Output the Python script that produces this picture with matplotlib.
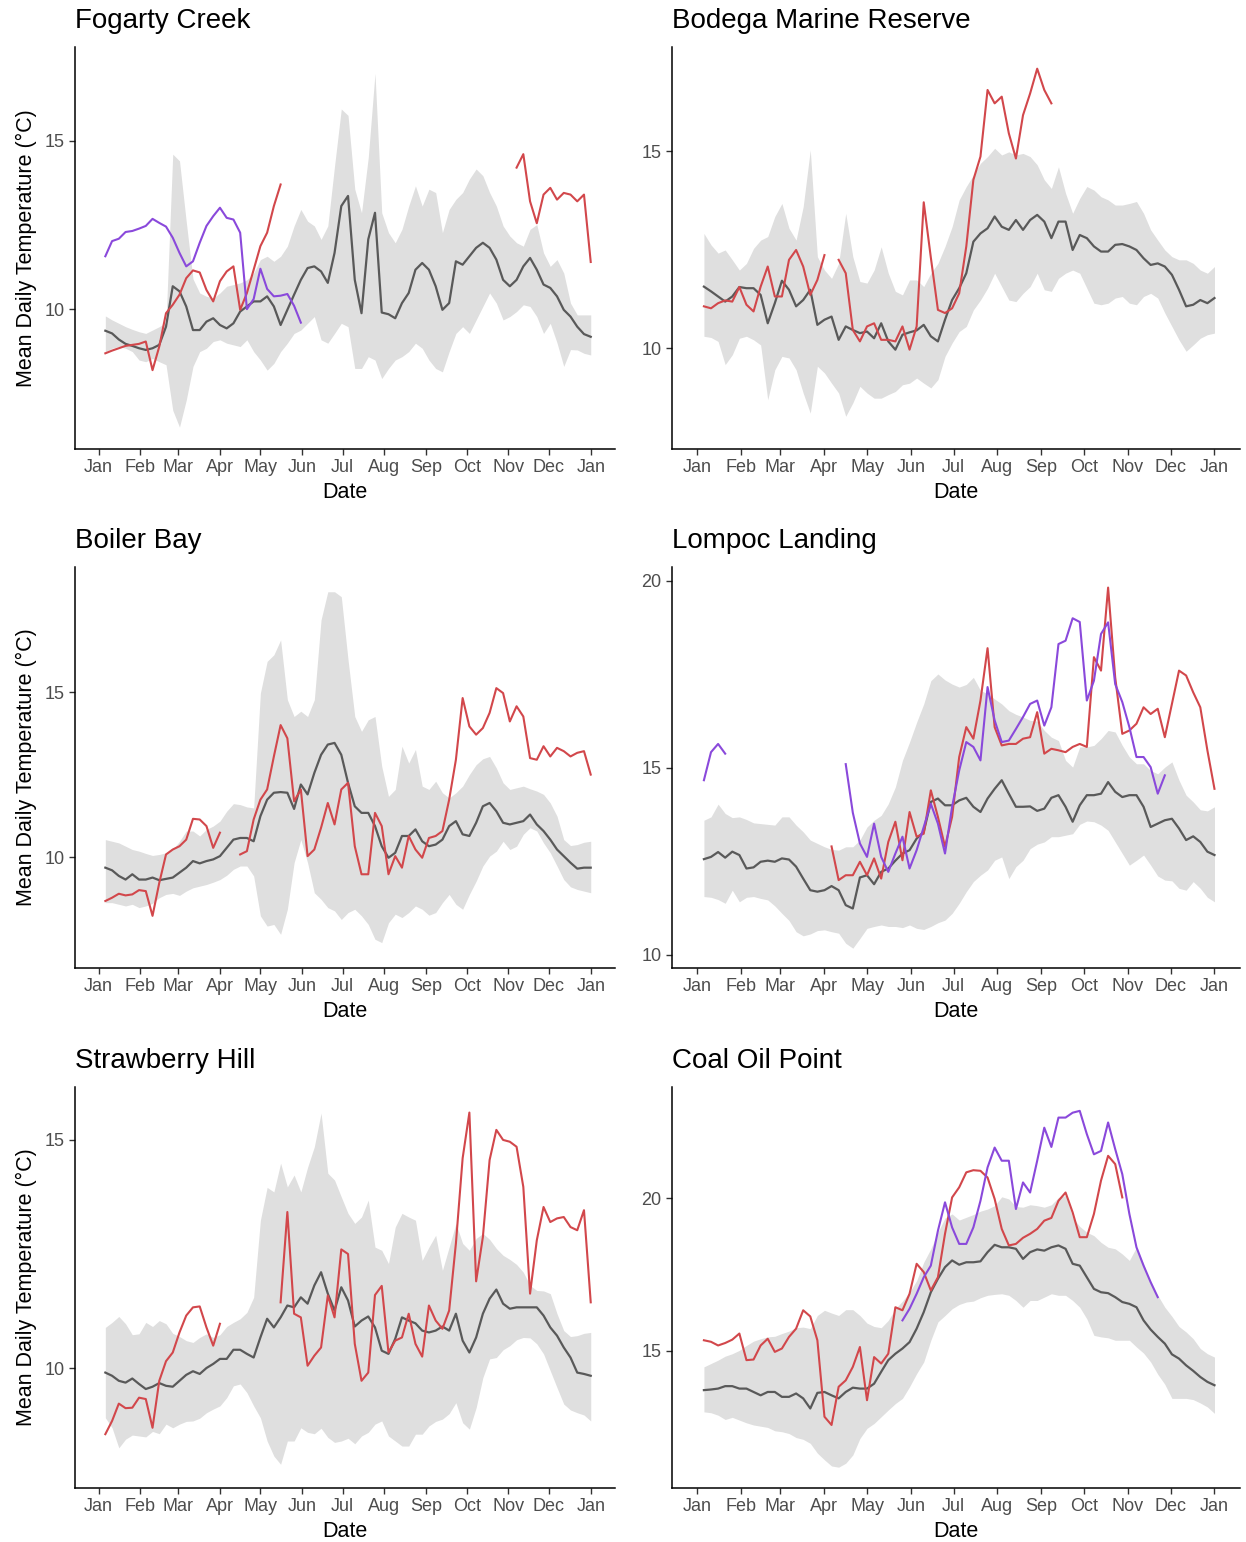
import numpy as np
import matplotlib
matplotlib.use("Agg")
import matplotlib.pyplot as plt

plt.rcParams['font.family'] = ['Liberation Sans', 'DejaVu Sans']

# values every 5 days, day 0 = Jan 1
STEP = 5
month_starts = [0, 31, 59, 90, 120, 151, 181, 212, 243, 273, 304, 334, 365]
month_labels = ['Jan', 'Feb', 'Mar', 'Apr', 'May', 'Jun', 'Jul',
                'Aug', 'Sep', 'Oct', 'Nov', 'Dec', 'Jan']

# ---- Fogarty Creek ----
fog_hi = [9.8, 9.68, 9.58, 9.48, 9.4, 9.33, 9.28, 9.38, 9.48, 9.6,
          14.6, 14.4, 12.6, 10.9, 10.48, 10.38, 10.33, 10.48, 10.68, 10.73,
          10.78, 10.87, 11.07, 11.47, 11.57, 11.42, 11.57, 11.87, 12.47, 12.96,
          12.61, 12.47, 12.07, 12.47, 14.25, 15.94, 15.75, 13.56, 12.86, 14.5,
          17.0, 12.86, 12.27, 11.97, 12.37, 13.06, 13.66, 13.06, 13.56, 13.46,
          12.27, 12.96, 13.26, 13.46, 13.86, 14.16, 13.96, 13.46, 13.06, 12.47,
          12.17, 11.97, 11.87, 12.37, 12.51, 11.67, 11.27, 11.47, 11.07, 10.18,
          9.83, 9.83, 9.83]
fog_lo = [8.74, 8.84, 8.89, 8.84, 8.74, 8.49, 8.44, 8.54, 8.44, 8.35,
          7.0, 6.5, 7.3, 8.3, 8.74, 8.84, 9.04, 9.09, 8.99, 8.94,
          8.89, 9.09, 8.74, 8.49, 8.19, 8.39, 8.74, 8.99, 9.28, 9.38,
          9.58, 9.78, 9.09, 8.99, 9.28, 9.58, 9.48, 8.24, 8.24, 8.59,
          8.49, 7.94, 8.24, 8.49, 8.59, 8.74, 8.99, 8.84, 8.49, 8.24,
          8.14, 8.74, 9.28, 9.48, 9.28, 9.68, 10.08, 10.48, 10.18, 9.68,
          9.78, 9.93, 10.13, 10.08, 9.78, 9.28, 9.58, 9.0, 8.3, 8.8,
          8.79, 8.69, 8.64]
fog_mean = [9.36, 9.28, 9.1, 8.97, 8.91, 8.84, 8.79, 8.84, 8.94, 9.48,
            10.68, 10.53, 10.08, 9.38, 9.38, 9.63, 9.73, 9.53, 9.43, 9.58,
            9.93, 10.08, 10.23, 10.23, 10.38, 10.08, 9.53, 9.98, 10.43, 10.87,
            11.22, 11.27, 11.12, 10.78, 11.67, 13.06, 13.36, 10.87, 9.88, 12.07,
            12.86, 9.9, 9.85, 9.73, 10.18, 10.48, 11.17, 11.37, 11.17, 10.68,
            9.98, 10.18, 11.42, 11.32, 11.57, 11.82, 11.97, 11.82, 11.47, 10.87,
            10.68, 10.87, 11.27, 11.52, 11.17, 10.73, 10.63, 10.38, 9.98, 9.78,
            9.48, 9.26, 9.18]
fog_red_a = [8.69, 8.77, 8.84, 8.91, 8.94, 8.97, 9.04, 8.19, 8.89, 9.88,
             10.13, 10.43, 10.92, 11.15, 11.09, 10.57, 10.23, 10.83, 11.12, 11.27,
             9.98, 10.48, 11.17, 11.87, 12.27, 13.06, 13.7]
fog_red_b = [14.2, 14.6, 13.2, 12.55, 13.4, 13.6, 13.25, 13.45, 13.4, 13.2, 13.4, 11.4]
fog_purple = [11.57, 12.02, 12.09, 12.29, 12.32, 12.39, 12.47, 12.68, 12.56, 12.45,
              12.12, 11.67, 11.27, 11.42, 11.97, 12.47, 12.76, 13.01, 12.71, 12.66,
              12.27, 10.0, 10.3, 11.2, 10.6, 10.38, 10.4, 10.45, 10.1, 9.6]

# ---- Bodega Marine Reserve ----
bod_hi = [12.91, 12.62, 12.41, 12.49, 12.24, 11.98, 12.15, 12.53, 12.74, 12.83,
          13.34, 13.67, 13.04, 12.74, 13.59, 15.03, 12.32, 11.98, 11.77, 12.15,
          13.42, 12.32, 11.69, 11.65, 11.98, 12.57, 11.9, 11.44, 11.35, 11.73,
          11.73, 11.56, 11.9, 12.15, 12.58, 13.08, 13.76, 14.1, 14.39, 14.69,
          14.86, 15.07, 14.9, 14.98, 14.9, 14.94, 14.86, 14.65, 14.27, 14.05,
          14.6, 13.93, 13.42, 13.8, 14.1, 14.01, 13.84, 13.76, 13.63, 13.63,
          13.67, 13.72, 13.42, 13.0, 12.74, 12.49, 12.32, 12.24, 12.24, 12.15,
          11.98, 11.9, 12.07]
bod_lo = [10.3, 10.27, 10.17, 9.58, 9.83, 10.25, 10.3, 10.21, 10.08, 8.69,
          9.45, 9.79, 9.75, 9.45, 8.86, 8.35, 9.54, 9.37, 9.11, 8.86,
          8.27, 8.61, 9.03, 8.86, 8.73, 8.73, 8.82, 8.9, 9.07, 9.11,
          9.24, 9.11, 8.99, 9.2, 9.79, 10.13, 10.42, 10.55, 10.97, 11.22,
          11.52, 11.9, 11.56, 11.22, 11.18, 11.39, 11.56, 11.9, 11.48, 11.44,
          11.77, 11.9, 11.98, 11.9, 11.52, 11.14, 11.1, 11.14, 11.27, 11.31,
          11.14, 11.1, 11.31, 11.39, 11.27, 10.89, 10.55, 10.21, 9.92, 10.08,
          10.25, 10.34, 10.38]
bod_mean = [11.56, 11.44, 11.31, 11.18, 11.31, 11.55, 11.52, 11.52, 11.35, 10.63,
            11.14, 11.71, 11.48, 11.06, 11.22, 11.48, 10.59, 10.72, 10.8, 10.21,
            10.55, 10.46, 10.38, 10.42, 10.25, 10.63, 10.17, 9.96, 10.34, 10.4,
            10.45, 10.59, 10.3, 10.17, 10.72, 11.22, 11.52, 11.9, 12.7, 12.91,
            13.04, 13.34, 13.08, 13.0, 13.25, 13.0, 13.25, 13.38, 13.21, 12.79,
            13.21, 13.21, 12.49, 12.87, 12.79, 12.58, 12.45, 12.45, 12.62, 12.64,
            12.58, 12.49, 12.28, 12.11, 12.15, 12.07, 11.86, 11.48, 11.06, 11.1,
            11.22, 11.14, 11.27]
bod_red_a = [11.06, 11.01, 11.14, 11.21, 11.18, 11.55, 11.1, 10.93, 11.56, 12.07,
             11.31, 11.31, 12.24, 12.49, 12.07, 11.35, 11.73, 12.36]
bod_red_b = [12.24, 11.9, 10.46, 10.17, 10.55, 10.63, 10.21, 10.21, 10.17, 10.55,
             9.96, 10.55, 13.7, 12.3, 10.97, 10.89, 11.01, 11.39, 12.58, 14.27,
             14.86, 16.55, 16.21, 16.38, 15.45, 14.81, 15.91, 16.46, 17.09, 16.55, 16.21]

# ---- Boiler Bay ----
boi_hi = [10.53, 10.48, 10.43, 10.33, 10.23, 10.18, 10.11, 10.05, 10.08, 10.13,
          10.23, 10.48, 10.79, 10.79, 10.64, 10.84, 10.94, 11.09, 11.39, 11.62,
          11.59, 11.52, 11.49, 14.97, 15.93, 16.13, 16.58, 14.77, 14.26, 14.42,
          14.26, 14.77, 17.19, 18.04, 18.04, 17.89, 15.98, 14.26, 13.81, 14.16,
          14.26, 12.75, 11.84, 12.05, 13.36, 12.85, 13.26, 12.15, 12.05, 12.3,
          11.95, 11.79, 11.95, 12.15, 12.5, 12.8, 12.98, 13.05, 12.7, 12.25,
          12.05, 12.1, 12.15, 12.07, 12.0, 11.9, 11.64, 11.24, 10.53, 10.35,
          10.38, 10.45, 10.48]
boi_lo = [8.62, 8.62, 8.57, 8.52, 8.57, 8.47, 8.52, 8.6, 8.77, 8.87,
          8.9, 8.84, 8.97, 9.07, 9.12, 9.17, 9.24, 9.32, 9.45, 9.63,
          9.73, 9.73, 9.43, 8.22, 7.91, 7.96, 7.66, 8.42, 9.83, 10.53,
          9.83, 8.92, 8.72, 8.47, 8.37, 8.11, 8.32, 8.42, 8.22, 7.96,
          7.51, 7.41, 8.01, 8.27, 8.17, 8.32, 8.52, 8.42, 8.24, 8.32,
          8.62, 8.87, 8.57, 8.42, 8.87, 9.27, 9.73, 10.03, 10.18, 10.48,
          10.23, 10.33, 10.69, 10.89, 10.79, 10.43, 10.13, 9.73, 9.32, 9.1,
          9.02, 8.97, 8.92]
boi_mean = [9.68, 9.6, 9.43, 9.32, 9.48, 9.32, 9.32, 9.38, 9.3, 9.34,
            9.38, 9.53, 9.68, 9.88, 9.81, 9.88, 9.93, 10.03, 10.28, 10.53,
            10.58, 10.58, 10.48, 11.24, 11.74, 11.95, 11.97, 11.95, 11.46, 12.2,
            11.9, 12.55, 13.1, 13.41, 13.46, 13.1, 12.25, 11.54, 11.34, 11.34,
            10.94, 10.33, 9.98, 10.13, 10.64, 10.64, 10.84, 10.48, 10.33, 10.38,
            10.53, 10.94, 11.09, 10.69, 10.64, 11.04, 11.54, 11.64, 11.39, 11.04,
            10.99, 11.04, 11.09, 11.29, 10.99, 10.79, 10.53, 10.23, 10.03, 9.83,
            9.65, 9.68, 9.68]
boi_red_a = [8.67, 8.77, 8.89, 8.84, 8.87, 9.0, 8.97, 8.22, 9.22, 10.08,
             10.23, 10.33, 10.53, 11.16, 11.14, 10.94, 10.28, 10.74]
boi_red_b = [10.08, 10.18, 11.14, 11.74, 12.05, 13.05, 14.0, 13.6, 11.69, 12.05,
             10.03, 10.23, 10.89, 11.64, 10.99, 12.05, 12.25, 10.33, 9.48, 9.48,
             11.34, 10.94, 9.48, 10.03, 9.68, 10.64, 10.23, 9.98, 10.58, 10.64,
             10.79, 11.74, 12.95, 14.82, 13.96, 13.71, 13.91, 14.37, 15.12, 14.97,
             14.11, 14.57, 14.26, 13.0, 12.95, 13.36, 13.05, 13.31, 13.21, 13.05,
             13.16, 13.21, 12.5]

# ---- Lompoc Landing ----
lom_hi = [13.6, 13.69, 14.03, 13.78, 13.67, 13.69, 13.62, 13.53, 13.51, 13.49,
          13.47, 13.69, 13.69, 13.47, 13.29, 13.07, 12.98, 12.89, 12.82, 12.8,
          12.89, 12.89, 13.07, 13.42, 13.6, 13.73, 14.04, 14.49, 15.2, 15.69,
          16.22, 16.71, 17.33, 17.51, 17.35, 17.24, 17.16, 17.23, 17.42, 17.07,
          16.98, 16.84, 16.71, 16.53, 16.43, 16.36, 16.27, 16.25, 16.0, 15.82,
          15.73, 15.2, 15.02, 15.56, 15.56, 15.6, 15.78, 16.0, 15.96, 15.6,
          15.29, 15.11, 15.11, 14.93, 14.84, 15.02, 15.16, 14.67, 14.27, 14.09,
          13.88, 13.85, 13.96]
lom_lo = [11.56, 11.54, 11.48, 11.38, 11.73, 11.42, 11.54, 11.56, 11.51, 11.47,
          11.31, 11.11, 10.92, 10.62, 10.51, 10.56, 10.65, 10.67, 10.62, 10.58,
          10.31, 10.18, 10.44, 10.71, 10.76, 10.8, 10.76, 10.76, 10.73, 10.8,
          10.71, 10.68, 10.76, 10.86, 10.93, 11.11, 11.38, 11.69, 11.96, 12.13,
          12.27, 12.53, 12.62, 12.04, 12.36, 12.53, 12.84, 12.96, 13.02, 13.16,
          13.16, 13.2, 13.24, 13.49, 13.58, 13.56, 13.47, 13.33, 13.02, 12.71,
          12.4, 12.53, 12.67, 12.4, 12.11, 12.0, 11.98, 11.78, 11.73, 11.96,
          11.78, 11.54, 11.42]
lom_mean = [12.56, 12.62, 12.75, 12.6, 12.76, 12.67, 12.31, 12.34, 12.49, 12.52,
            12.49, 12.58, 12.55, 12.36, 12.04, 11.73, 11.69, 11.73, 11.84, 11.73,
            11.33, 11.24, 12.07, 12.13, 11.89, 12.22, 12.31, 12.52, 12.71, 12.8,
            13.11, 13.29, 14.09, 14.18, 14.0, 14.0, 14.13, 14.2, 13.96, 13.82,
            14.18, 14.44, 14.67, 14.31, 13.96, 13.96, 13.97, 13.85, 13.91, 14.2,
            14.27, 13.96, 13.56, 14.0, 14.27, 14.27, 14.31, 14.62, 14.36, 14.22,
            14.27, 14.27, 13.96, 13.42, 13.51, 13.6, 13.64, 13.38, 13.07, 13.17,
            13.02, 12.76, 12.67]
lom_red = [12.9, 12.0, 12.13, 12.13, 12.49, 12.13, 12.58, 12.04, 13.02, 13.56,
           12.53, 13.82, 13.16, 13.24, 14.4, 13.69, 12.89, 13.69, 15.29, 16.09,
           15.78, 16.8, 18.2, 16.09, 15.6, 15.64, 15.64, 15.78, 15.82, 16.49,
           15.38, 15.51, 15.47, 15.42, 15.56, 15.64, 15.56, 17.96, 17.6, 19.82,
           17.42, 15.91, 16.0, 16.18, 16.62, 16.44, 16.58, 15.82, 16.71, 17.6,
           17.47, 17.02, 16.62, 15.47, 14.44]
lom_purple_a = [14.67, 15.42, 15.64, 15.38]
lom_purple_b = [15.1, 13.8, 12.98, 12.62, 13.51, 12.62, 12.22, 12.71, 13.16, 12.31,
                12.8, 13.42, 14.04, 13.51, 12.71, 13.96, 14.93, 15.69, 15.56, 15.2,
                17.16, 16.27, 15.69, 15.73, 16.04, 16.36, 16.71, 16.8, 16.13, 16.62,
                18.31, 18.4, 19.0, 18.9, 16.8, 17.33, 18.58, 18.89, 17.24, 16.76,
                16.09, 15.29, 15.29, 15.02, 14.31, 14.8]

# ---- Strawberry Hill ----
str_hi = [10.89, 11.0, 11.13, 10.97, 10.73, 10.75, 11.0, 10.91, 11.04, 10.97,
          10.76, 10.69, 10.6, 10.56, 10.67, 10.75, 10.67, 10.73, 10.91, 11.0,
          11.08, 11.22, 11.55, 13.24, 13.96, 13.86, 14.49, 13.97, 14.23, 13.86,
          14.4, 14.85, 15.59, 14.27, 14.12, 13.75, 13.39, 13.17, 13.31, 13.68,
          12.65, 12.58, 12.29, 13.09, 13.39, 13.31, 13.24, 12.36, 12.65, 12.91,
          12.14, 12.65, 13.17, 12.73, 12.58, 12.84, 12.95, 12.82, 12.62, 12.47,
          12.38, 12.27, 12.1, 11.81, 11.7, 11.69, 11.63, 11.19, 10.82, 10.69,
          10.71, 10.76, 10.78]
str_lo = [8.91, 8.69, 8.25, 8.44, 8.53, 8.51, 8.49, 8.61, 8.56, 8.77,
          8.69, 8.77, 8.83, 8.84, 8.9, 9.02, 9.1, 9.17, 9.35, 9.61,
          9.65, 9.46, 9.17, 8.91, 8.4, 8.07, 7.89, 8.4, 8.4, 8.69,
          8.59, 8.56, 8.68, 8.48, 8.37, 8.4, 8.46, 8.34, 8.51, 8.59,
          8.77, 8.84, 8.51, 8.4, 8.29, 8.29, 8.55, 8.55, 8.73, 8.83,
          8.88, 9.0, 9.24, 8.8, 8.66, 9.13, 9.79, 10.2, 10.23, 10.4,
          10.49, 10.62, 10.67, 10.66, 10.53, 10.31, 9.94, 9.57, 9.21, 9.08,
          9.02, 8.97, 8.84]
str_mean = [9.9, 9.83, 9.72, 9.68, 9.77, 9.65, 9.54, 9.59, 9.67, 9.61,
            9.59, 9.72, 9.85, 9.93, 9.87, 10.0, 10.09, 10.2, 10.2, 10.4,
            10.4, 10.31, 10.23, 10.67, 11.08, 10.89, 11.11, 11.37, 11.33, 11.55,
            11.41, 11.81, 12.1, 11.63, 11.26, 11.77, 11.48, 10.91, 11.04, 11.13,
            10.89, 10.38, 10.31, 10.64, 11.11, 11.04, 10.98, 10.82, 10.78, 10.82,
            10.91, 10.82, 11.19, 10.6, 10.34, 10.67, 11.19, 11.52, 11.72, 11.41,
            11.3, 11.33, 11.33, 11.33, 11.33, 11.15, 10.89, 10.71, 10.45, 10.23,
            9.9, 9.87, 9.83]
str_red_a = [8.55, 8.84, 9.22, 9.12, 9.13, 9.35, 9.32, 8.69, 9.72, 10.15,
             10.34, 10.78, 11.15, 11.33, 11.35, 10.89, 10.49, 10.97]
str_red_b = [11.44, 13.42, 11.19, 11.11, 10.05, 10.27, 10.45, 11.59, 11.11, 12.6,
             12.5, 10.53, 9.72, 9.9, 11.6, 11.8, 10.34, 10.6, 10.67, 11.19,
             10.53, 10.25, 11.37, 11.04, 10.86, 11.26, 12.73, 14.6, 15.6, 11.9,
             12.87, 14.56, 15.22, 15.0, 14.96, 14.85, 13.97, 11.63, 12.8, 13.53,
             13.2, 13.28, 13.31, 13.09, 13.02, 13.46, 11.44]

# ---- Coal Oil Point ----
coa_hi = [14.48, 14.59, 14.7, 14.83, 14.91, 15.02, 15.18, 15.32, 15.4, 15.46,
          15.48, 15.57, 15.65, 15.76, 15.78, 15.73, 16.16, 16.33, 16.24, 16.16,
          16.35, 16.35, 16.16, 15.91, 15.8, 15.76, 16.0, 16.38, 16.63, 16.92,
          17.3, 17.9, 18.34, 18.88, 19.35, 19.48, 19.28, 19.37, 19.46, 19.57,
          19.64, 19.75, 20.04, 19.97, 19.72, 19.7, 19.78, 19.75, 19.7, 19.78,
          20.02, 20.08, 19.37, 19.07, 18.88, 18.77, 18.55, 18.39, 18.34, 18.17,
          17.96, 18.39, 17.85, 17.2, 16.82, 16.43, 16.13, 15.8, 15.62, 15.4,
          15.08, 14.91, 14.8]
coa_lo = [13.01, 12.98, 12.9, 12.76, 12.83, 12.74, 12.65, 12.58, 12.54, 12.5,
          12.39, 12.36, 12.3, 12.17, 12.11, 11.98, 11.66, 11.44, 11.24, 11.2,
          11.33, 11.6, 12.14, 12.47, 12.63, 12.85, 13.07, 13.28, 13.45, 13.83,
          14.26, 14.64, 15.35, 15.95, 16.16, 16.38, 16.52, 16.6, 16.63, 16.74,
          16.82, 16.85, 16.87, 16.82, 16.65, 16.43, 16.65, 16.65, 16.76, 16.87,
          16.82, 16.82, 16.65, 16.43, 16.05, 15.51, 15.46, 15.43, 15.35, 15.35,
          15.35, 15.13, 14.93, 14.64, 14.24, 13.91, 13.45, 13.45, 13.45, 13.41,
          13.3, 13.17, 12.96]
coa_mean = [13.72, 13.74, 13.77, 13.85, 13.85, 13.77, 13.77, 13.66, 13.55, 13.66,
            13.66, 13.5, 13.5, 13.61, 13.45, 13.12, 13.63, 13.66, 13.55, 13.45,
            13.66, 13.8, 13.77, 13.77, 13.93, 14.32, 14.7, 14.91, 15.08, 15.29,
            15.73, 16.27, 16.92, 17.36, 17.74, 17.96, 17.82, 17.9, 17.9, 17.93,
            18.23, 18.47, 18.39, 18.39, 18.34, 18.01, 18.23, 18.32, 18.28, 18.39,
            18.45, 18.34, 17.85, 17.79, 17.41, 17.03, 16.92, 16.89, 16.76, 16.6,
            16.54, 16.43, 16.0, 15.7, 15.46, 15.24, 14.89, 14.75, 14.53, 14.35,
            14.15, 13.99, 13.88]
coa_red = [15.35, 15.3, 15.18, 15.26, 15.37, 15.57, 14.7, 14.72, 15.18, 15.4,
           14.97, 15.08, 15.46, 15.73, 16.33, 16.13, 15.35, 12.85, 12.58, 13.83,
           14.04, 14.48, 15.13, 13.39, 14.8, 14.59, 14.91, 16.43, 16.33, 16.87,
           17.85, 17.58, 16.98, 17.41, 18.83, 20.02, 20.35, 20.84, 20.91, 20.89,
           20.67, 19.97, 18.99, 18.45, 18.5, 18.7, 18.83, 18.99, 19.26, 19.35,
           19.91, 20.18, 19.53, 18.72, 18.72, 19.48, 20.57, 21.38, 21.11, 20.02]
coa_purple = [16.0, 16.38, 16.87, 17.41, 17.79, 18.93, 19.86, 19.04, 18.5, 18.5,
              19.04, 19.91, 21.0, 21.65, 21.22, 21.22, 19.64, 20.51, 20.18, 21.22,
              22.3, 21.67, 22.63, 22.63, 22.79, 22.85, 22.09, 21.43, 21.54, 22.47,
              21.6, 20.78, 19.48, 18.39, 17.79, 17.25, 16.76]

BAND = '#DFDFDF'
MEAN = '#595959'
RED = '#D2474B'
PURPLE = '#8A49DB'


def draw_panel(ax, title, lo, hi, mean, series, ylim, yticks, ylabel):
    x = 5 + STEP * np.arange(len(mean))
    ax.fill_between(x, lo, hi, color=BAND, lw=0)
    ax.plot(x, mean, color=MEAN, lw=1.6, solid_joinstyle='round')
    for start, vals, col in series:
        xs = start + STEP * np.arange(len(vals))
        ax.plot(xs, vals, color=col, lw=1.5, solid_joinstyle='round')

    ax.set_xlim(-17.5, 383)
    ax.set_ylim(*ylim)
    ax.set_xticks(month_starts)
    ax.set_xticklabels(month_labels)
    ax.set_yticks(yticks)
    for s in ['top', 'right']:
        ax.spines[s].set_visible(False)
    for s in ['left', 'bottom']:
        ax.spines[s].set_linewidth(1.1)
    ax.tick_params(length=4.5, width=1.0, color='#333333',
                   labelsize=13, labelcolor='#4D4D4D', pad=3)
    ax.set_title(title, loc='left', fontsize=20, pad=14)
    ax.set_xlabel('Date', fontsize=15.5)
    ax.xaxis.set_label_coords(0.5, -0.083)
    if ylabel:
        ax.set_ylabel('Mean Daily Temperature (°C)', fontsize=15.5)
        ax.yaxis.set_label_coords(-0.07, 0.5)


fig = plt.figure(figsize=(12.46, 15.42), dpi=100)
W, H = 1246.0, 1542.0
left_col = (75 / W, 540 / W)
right_col = (672 / W, 568 / W)
rows = [(47, 449), (567, 968), (1087, 1488)]


def make_ax(col, row):
    top, bottom = rows[row]
    return fig.add_axes([col[0], 1 - bottom / H, col[1], (bottom - top) / H])


draw_panel(make_ax(left_col, 0), 'Fogarty Creek', fog_lo, fog_hi, fog_mean,
           [(5, fog_red_a, RED), (310, fog_red_b, RED), (5, fog_purple, PURPLE)],
           (5.85, 17.78), [10, 15], True)
draw_panel(make_ax(right_col, 0), 'Bodega Marine Reserve', bod_lo, bod_hi, bod_mean,
           [(5, bod_red_a, RED), (100, bod_red_b, RED)],
           (7.44, 17.64), [10, 15], False)
draw_panel(make_ax(left_col, 1), 'Boiler Bay', boi_lo, boi_hi, boi_mean,
           [(5, boi_red_a, RED), (105, boi_red_b, RED)],
           (6.64, 18.79), [10, 15], True)
draw_panel(make_ax(right_col, 1), 'Lompoc Landing', lom_lo, lom_hi, lom_mean,
           [(95, lom_red, RED), (5, lom_purple_a, PURPLE), (105, lom_purple_b, PURPLE)],
           (9.65, 20.37), [10, 15, 20], False)
draw_panel(make_ax(left_col, 2), 'Strawberry Hill', str_lo, str_hi, str_mean,
           [(5, str_red_a, RED), (135, str_red_b, RED)],
           (7.37, 16.16), [10, 15], True)
draw_panel(make_ax(right_col, 2), 'Coal Oil Point', coa_lo, coa_hi, coa_mean,
           [(5, coa_red, RED), (145, coa_purple, PURPLE)],
           (10.52, 23.63), [15, 20], False)

fig.savefig('out.png', dpi=100)
